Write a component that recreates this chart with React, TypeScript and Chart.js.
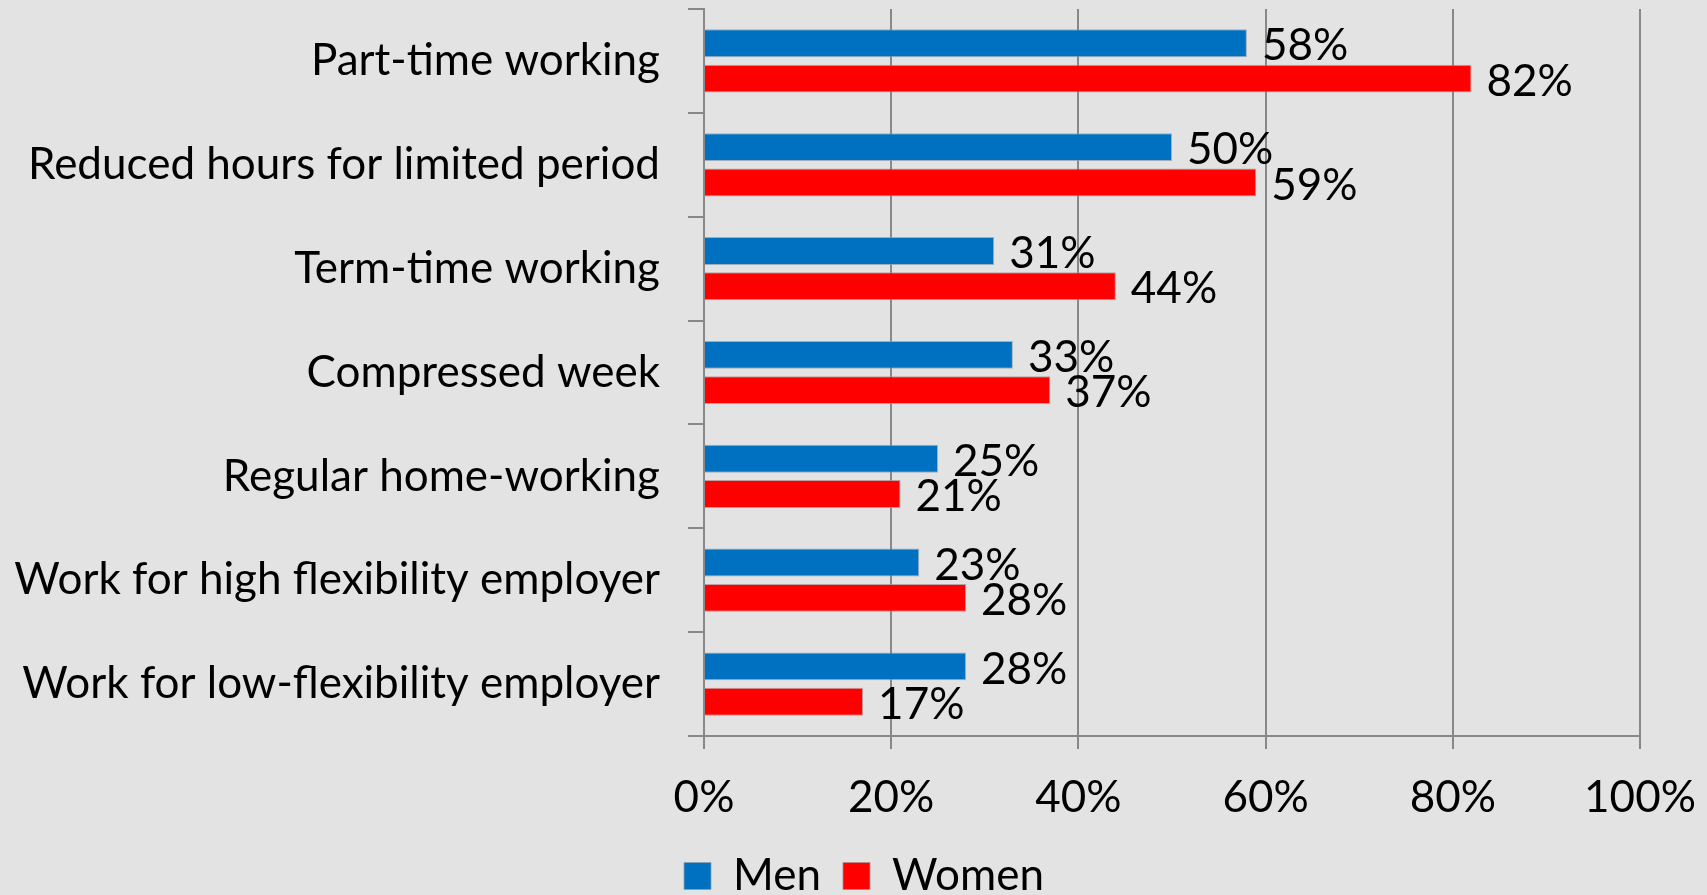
import { useEffect, useRef } from 'react';
import { Chart, registerables } from 'chart.js';

Chart.register(...registerables);

const categories = [
  'Part-time working',
  'Reduced hours for limited period',
  'Term-time working',
  'Compressed week',
  'Regular home-working',
  'Work for high flexibility employer',
  'Work for low-flexibility employer',
];
const menValues = [58, 50, 31, 33, 25, 23, 28];
const womenValues = [82, 59, 44, 37, 21, 28, 17];
const seriesNames = ['Men', 'Women'];

const FONT_FAMILY = 'Lato, Carlito, Calibri, sans-serif';
const FONT_SIZE = 44;
const BG = '#e3e3e3';
const GRID = '#888888';
const W = 1707;
const H = 908;

export default function App() {
  const ref = useRef<HTMLCanvasElement>(null);

  useEffect(() => {
    document.body.style.margin = '0';
    document.body.style.background = BG;
    const canvas = ref.current!;

    const bgPlugin = {
      id: 'bgFill',
      beforeDraw(chart: any) {
        const ctx = chart.ctx;
        ctx.save();
        ctx.fillStyle = BG;
        ctx.fillRect(0, 0, chart.width, chart.height);
        ctx.restore();
      },
    };

    const valueLabels = {
      id: 'valueLabels',
      afterDatasetsDraw(chart: any) {
        const ctx = chart.ctx;
        ctx.save();
        ctx.font = `${FONT_SIZE}px ${FONT_FAMILY}`;
        ctx.fillStyle = '#000';
        ctx.textAlign = 'left';
        ctx.textBaseline = 'middle';
        chart.data.datasets.forEach((ds: any, di: number) => {
          const meta = chart.getDatasetMeta(di);
          meta.data.forEach((bar: any, i: number) => {
            ctx.fillText(`${ds.data[i]}%`, bar.x + 15, bar.y + 3);
          });
        });
        ctx.restore();
      },
    };

    const font = { family: FONT_FAMILY, size: FONT_SIZE };

    const chart = new Chart(canvas, {
      type: 'bar',
      data: {
        labels: categories,
        datasets: [
          {
            label: seriesNames[0],
            data: menValues,
            backgroundColor: '#0070c0',
            borderColor: 'rgba(140,160,180,0.8)',
            borderWidth: 1,
            categoryPercentage: 0.68,
            barPercentage: 0.79,
          },
          {
            label: seriesNames[1],
            data: womenValues,
            backgroundColor: '#ff0000',
            borderColor: 'rgba(180,140,140,0.8)',
            borderWidth: 1,
            categoryPercentage: 0.68,
            barPercentage: 0.79,
          },
        ],
      },
      options: {
        indexAxis: 'y',
        responsive: false,
        animation: false,
        devicePixelRatio: 1,
        layout: { padding: { top: 9, right: -21, left: 0, bottom: 0 } },
        plugins: {
          legend: {
            position: 'bottom',
            labels: {
              font,
              color: '#000',
              boxWidth: 27,
              boxHeight: 27,
              padding: 22,
            },
          },
          tooltip: { enabled: false },
        },
        scales: {
          x: {
            min: 0,
            max: 100,
            ticks: {
              stepSize: 20,
              callback: (v: any) => `${v}%`,
              font,
              color: '#000',
              padding: 22,
            },
            grid: { color: GRID, lineWidth: 2, tickLength: 13 },
            border: { color: GRID, width: 2 },
            afterFit: (s: any) => {
              s.paddingLeft = 0;
              s.paddingRight = 67;
              s.height = 96;
            },
          },
          y: {
            ticks: { font, color: '#000', padding: 28 },
            grid: { drawOnChartArea: false, color: GRID, lineWidth: 2, tickLength: 16 },
            border: { color: GRID, width: 2 },
            afterFit: (s: any) => {
              s.width = 704;
              s.paddingTop = 0;
              s.paddingBottom = 0;
            },
          },
        },
      },
      plugins: [bgPlugin, valueLabels],
    } as any);

    return () => chart.destroy();
  }, []);

  return <canvas ref={ref} width={W} height={H} style={{ display: 'block' }} />;
}
